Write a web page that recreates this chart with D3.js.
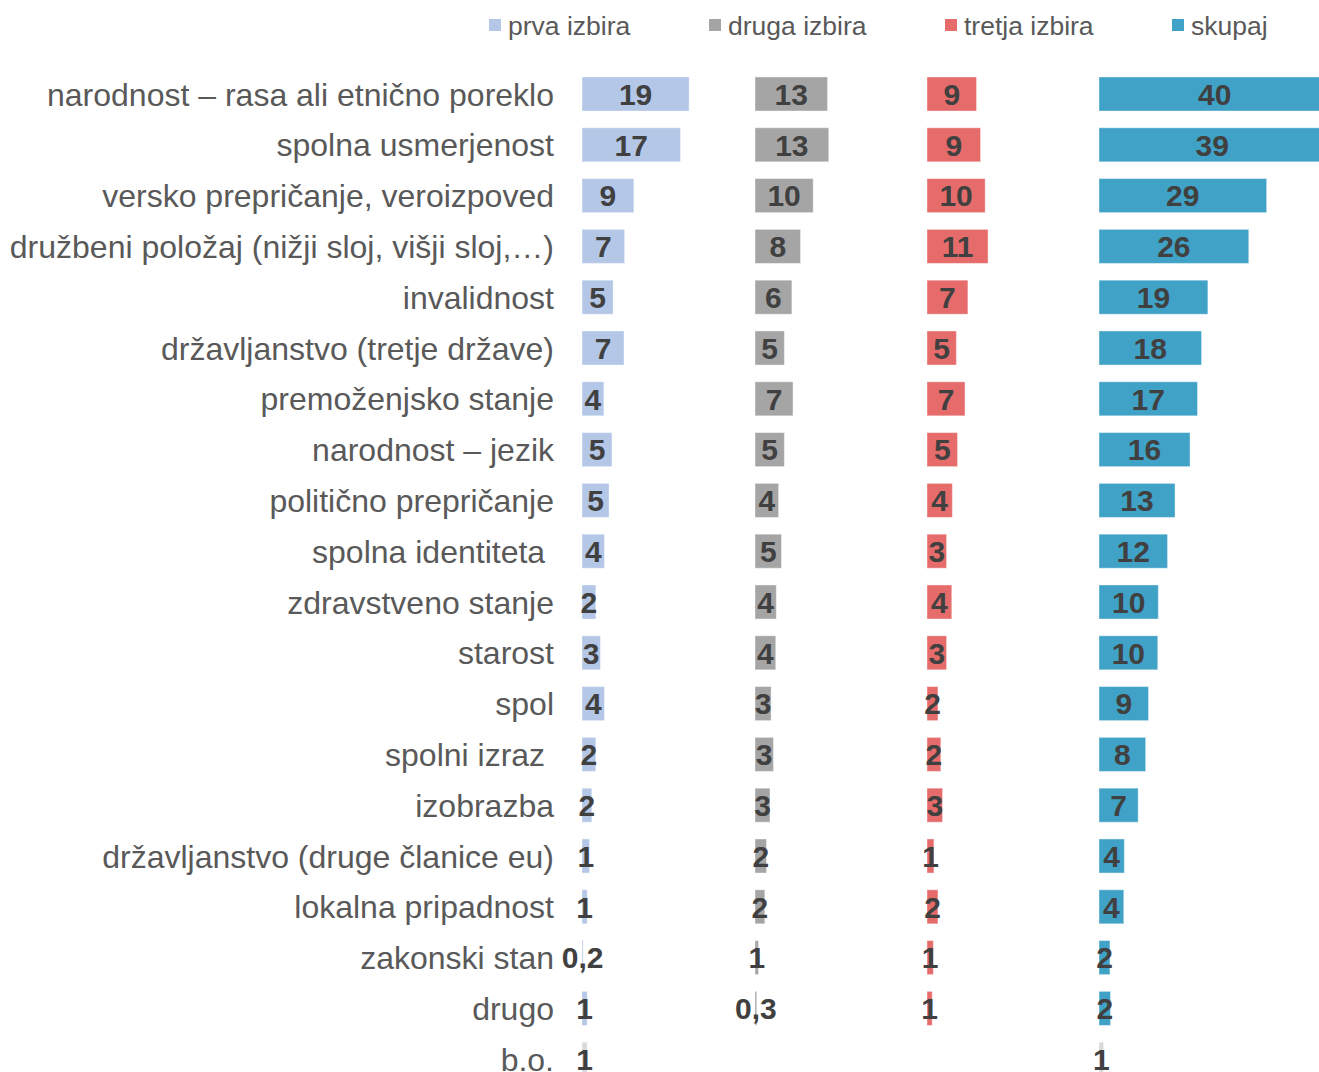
<!DOCTYPE html>
<html>
<head>
<meta charset="utf-8">
<script src="https://cdn.jsdelivr.net/npm/d3@7"></script>
<style>
  body { margin: 0; background: #fff; }
  text { font-family: "Liberation Sans", Arial, sans-serif; white-space: pre; }
</style>
</head>
<body>
<div id="chart"></div>
<script>
// data (bar lengths in %, labels are rounded)
const categories = [
  "narodnost – rasa ali etnično poreklo",
  "spolna usmerjenost",
  "versko prepričanje, veroizpoved",
  "družbeni položaj (nižji sloj, višji sloj,…)",
  "invalidnost",
  "državljanstvo (tretje države)",
  "premoženjsko stanje",
  "narodnost – jezik",
  "politično prepričanje",
  "spolna identiteta ",
  "zdravstveno stanje",
  "starost",
  "spol",
  "spolni izraz ",
  "izobrazba",
  "državljanstvo (druge članice eu)",
  "lokalna pripadnost",
  "zakonski stan",
  "drugo",
  "b.o."
];

const seriesNames = ["prva izbira", "druga izbira", "tretja izbira", "skupaj"];

const prva   = [18.6, 17.1, 9.0, 7.4, 5.4, 7.3, 3.8, 5.2, 4.7, 3.9, 2.4, 3.2, 3.9, 2.4, 1.7, 1.3, 0.9, 0.2, 0.9, 0.9];
const druga  = [12.6, 12.8, 10.1, 7.9, 6.4, 5.1, 6.6, 5.1, 4.1, 4.6, 3.7, 3.6, 2.8, 3.2, 2.6, 2.0, 1.7, 0.6, 0.3, null];
const tretja = [8.6, 9.3, 10.1, 10.6, 7.1, 5.1, 6.6, 5.3, 4.4, 3.4, 4.3, 3.4, 1.9, 2.4, 2.7, 1.2, 1.9, 1.1, 0.9, null];
const skupaj = [40.2, 39.3, 29.1, 26.0, 18.9, 17.8, 17.1, 15.8, 13.2, 11.9, 10.3, 10.2, 8.6, 8.1, 6.8, 4.4, 4.3, 1.9, 2.0, 0.8];

const allSeries = [prva, druga, tretja, skupaj];

const colors = ["#b4c7e7", "#a5a5a5", "#e66c6c", "#41a2c7"];
const boColor = "#d9d9d9";

const width = 1319;
const height = 1072;

const svg = d3.select("#chart")
  .append("svg")
  .attr("width", width)
  .attr("height", height);

let panelX = [582, 755, 927, 1099];

let x = d3.scaleLinear().domain([0, 40]).range([0, 230.4]);
let y = d3.scaleBand()
  .domain(categories)
  .range([68.6, 1084.6])
  .paddingInner(0.33)
  .paddingOuter(0.165);

function fmt(v) {
  if (v < 0.5) return d3.format(".1f")(v).replace(".", ",");
  return Math.round(v);
}

// category labels
svg.append("g")
  .selectAll("text")
  .data(categories)
  .join("text")
    .attr("x", 554)
    .attr("y", d => y(d) + y.bandwidth() / 2)
    .attr("dy", "0.36em")
    .attr("text-anchor", "end")
    .attr("font-size", 32)
    .attr("fill", "#595959")
    .text(d => d);

// one panel per series
allSeries.forEach(function(vals, s) {
  let rows = vals.map((v, i) => ({cat: categories[i], v: v}))
                 .filter(d => d.v !== null);

  let g = svg.append("g")
    .attr("transform", "translate(" + panelX[s] + ",0)");

  g.selectAll("rect")
    .data(rows)
    .join("rect")
      .attr("x", 0)
      .attr("y", d => y(d.cat))
      .attr("width", d => x(d.v))
      .attr("height", y.bandwidth())
      .attr("fill", d => d.cat == "b.o." ? boColor : colors[s])
      .attr("stroke", "#fff")
      .attr("stroke-opacity", 0.4)
      .attr("stroke-width", 1);

  g.selectAll("text")
    .data(rows)
    .join("text")
      .attr("x", d => x(d.v) / 2)
      .attr("y", d => y(d.cat) + y.bandwidth() / 2)
      .attr("dy", "0.36em")
      .attr("text-anchor", "middle")
      .attr("font-size", 30)
      .attr("font-weight", "bold")
      .attr("fill", "#404040")
      .text(d => fmt(d.v));
});

// legend
let legendX = [489, 709, 945, 1172];
let legend = svg.append("g")
  .selectAll("g")
  .data(seriesNames)
  .join("g")
    .attr("transform", (d, i) => "translate(" + legendX[i] + ",19)");

legend.append("rect")
  .attr("width", 12)
  .attr("height", 12)
  .attr("fill", (d, i) => colors[i]);

legend.append("text")
  .attr("x", 19)
  .attr("y", 6)
  .attr("dy", "0.36em")
  .attr("font-size", 26.5)
  .attr("fill", "#595959")
  .text(d => d);
</script>
</body>
</html>
